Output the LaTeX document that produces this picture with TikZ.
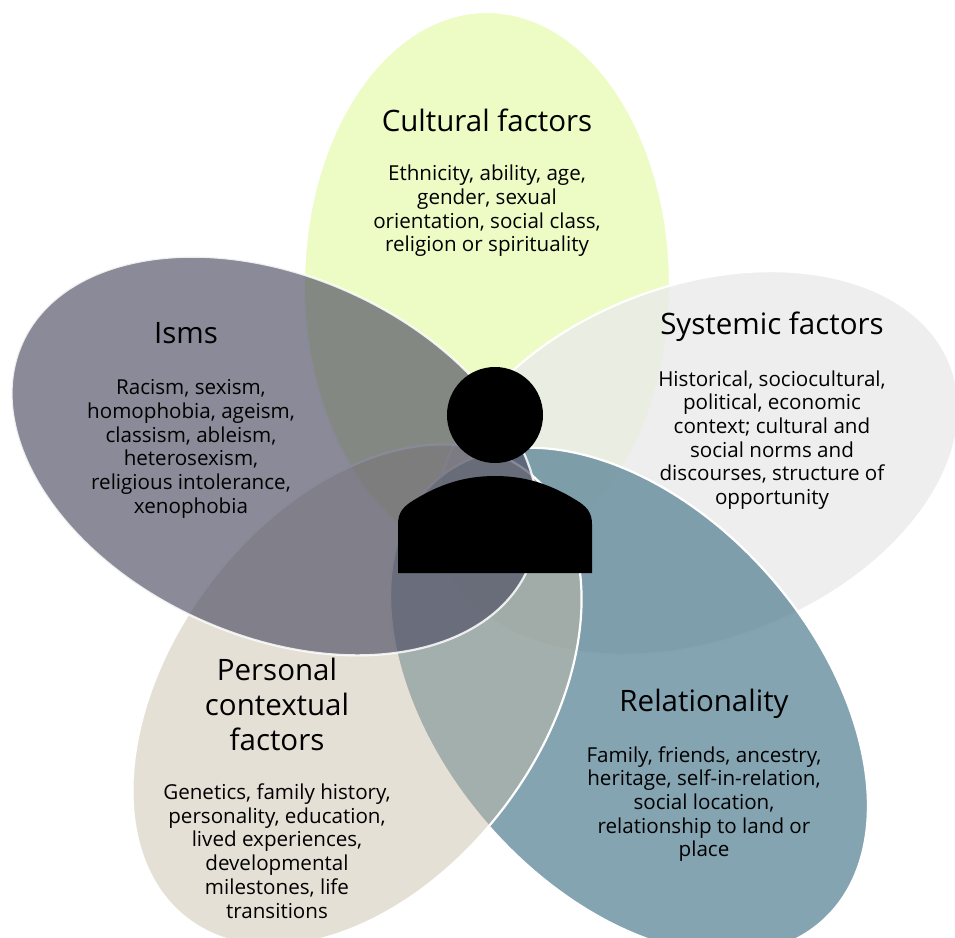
\documentclass[tikz,border=0pt]{standalone}
\usepackage{fontspec}
\setmainfont{Open Sans}
\definecolor{cyel}{HTML}{EDFBC5}
\definecolor{csys}{HTML}{EAEAEA}
\definecolor{crel}{HTML}{507D91}
\definecolor{cper}{HTML}{C8BDA6}
\definecolor{cism}{HTML}{4B4B61}
\tikzset{
  petal/.style={draw=white,line width=2.2pt},
  ttl/.style={align=center,inner sep=0pt,font=\fontsize{29.5}{35}\selectfont,text=black},
  bdy/.style={align=center,inner sep=0pt,font=\fontsize{20.6}{23.7}\selectfont,text=black},
}
\begin{document}
\begin{tikzpicture}[x=1pt,y=-1pt]
\useasboundingbox (0,0) rectangle (955,937);
\begin{scope}
\clip (0,0) rectangle (955,937);
\path[petal,fill=cyel] (487,285) ellipse [x radius=273pt,y radius=183pt,rotate=90];
\path[petal,fill=csys,fill opacity=.8] (697,463) ellipse [x radius=272pt,y radius=177pt,rotate=21];
\path[petal,fill=crel,fill opacity=.7] (629,701) ellipse [x radius=293pt,y radius=188pt,rotate=-49];
\path[petal,fill=cper,fill opacity=.47] (357,695) ellipse [x radius=281pt,y radius=185pt,rotate=53];
\path[petal,fill=cism,fill opacity=.65,draw opacity=.85] (275,456) ellipse [x radius=277pt,y radius=180pt,rotate=-24];
\end{scope}
\fill[black] (495,415) circle [radius=48pt];
\fill[black] (398,573) -- (398,524) .. controls (398,512) and (404,506) .. (414,500) .. controls (440,484) and (465,476) .. (495,476) .. controls (525,476) and (550,484) .. (576,500) .. controls (586,506) and (592,512) .. (592,524) -- (592,573) -- cycle;
\node[ttl] (t1) at (487,120) {Cultural factors};
\node[bdy] (b1) at (487,211) {Ethnicity, ability, age,\\gender, sexual\\orientation, social class,\\religion or spirituality};
\node[ttl] (t2) at (772,327) {Systemic factors};
\node[bdy] (b2) at (772,440) {Historical, sociocultural,\\political, economic\\context; cultural and\\social norms and\\discourses, structure of\\opportunity};
\node[ttl] (t3) at (704,704) {Relationality};
\node[bdy] (b3) at (704,804) {Family, friends, ancestry,\\heritage, self-in-relation,\\social location,\\relationship to land or\\place};
\node[ttl] (t4) at (277,704) {Personal\\contextual\\factors};
\node[bdy] (b4) at (277,851) {Genetics, family history,\\personality, education,\\lived experiences,\\developmental\\milestones, life\\transitions};
\node[ttl] (t5) at (186,333) {Isms};
\node[bdy] (b5) at (191,449) {Racism, sexism,\\homophobia, ageism,\\classism, ableism,\\heterosexism,\\religious intolerance,\\xenophobia};
\end{tikzpicture}
\end{document}
